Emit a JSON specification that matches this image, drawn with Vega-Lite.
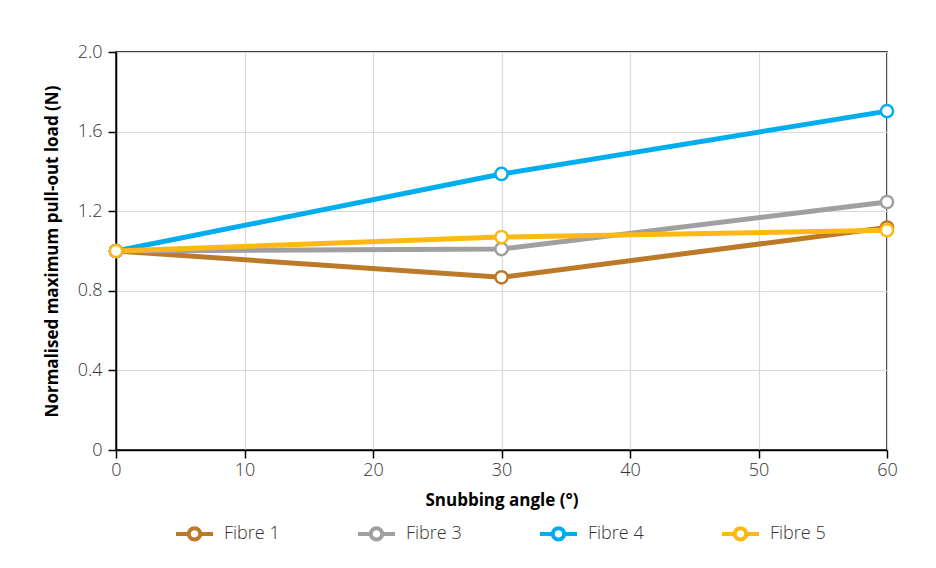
{
  "$schema": "https://vega.github.io/schema/vega-lite/v6.json",
  "width": 771,
  "height": 398,
  "autosize": "none",
  "padding": {"left": 116, "top": 52, "right": 49, "bottom": 118},
  "background": "white",
  "config": {
    "font": "Open Sans",
    "view": {"stroke": "black", "strokeWidth": 1.5},
    "axis": {
      "domainColor": "black",
      "domainWidth": 1.5,
      "tickColor": "black",
      "tickWidth": 1.5,
      "tickSize": 8,
      "gridColor": "#d9d9d9",
      "gridWidth": 1.2,
      "labelFlush": false,
      "labelFont": "Open Sans",
      "labelFontSize": 18,
      "labelFontWeight": 300,
      "labelColor": "#333333",
      "titleFont": "Open Sans",
      "titleFontSize": 17,
      "titleFontWeight": "bold",
      "titleColor": "black"
    }
  },
  "data": {
    "values": [
      {"angle": 0, "load": 1.0, "fibre": "Fibre 1"},
      {"angle": 30, "load": 0.868, "fibre": "Fibre 1"},
      {"angle": 60, "load": 1.118, "fibre": "Fibre 1"},
      {"angle": 0, "load": 1.0, "fibre": "Fibre 3"},
      {"angle": 30, "load": 1.01, "fibre": "Fibre 3"},
      {"angle": 60, "load": 1.246, "fibre": "Fibre 3"},
      {"angle": 0, "load": 1.0, "fibre": "Fibre 4"},
      {"angle": 30, "load": 1.387, "fibre": "Fibre 4"},
      {"angle": 60, "load": 1.703, "fibre": "Fibre 4"},
      {"angle": 0, "load": 1.0, "fibre": "Fibre 5"},
      {"angle": 30, "load": 1.07, "fibre": "Fibre 5"},
      {"angle": 60, "load": 1.104, "fibre": "Fibre 5"}
    ]
  },
  "encoding": {
    "x": {
      "field": "angle",
      "type": "quantitative",
      "scale": {"domain": [0, 60], "nice": false},
      "axis": {"values": [0, 10, 20, 30, 40, 50, 60], "title": "Snubbing angle (°)", "titlePadding": 13, "labelPadding": 3}
    },
    "y": {
      "field": "load",
      "type": "quantitative",
      "scale": {"domain": [0, 2], "nice": false},
      "axis": {
        "values": [0, 0.4, 0.8, 1.2, 1.6, 2.0],
        "labelExpr": "datum.value == 0 ? '0' : format(datum.value, '.1f')",
        "title": "Normalised maximum pull-out load (N)",
        "titlePadding": 16,
        "labelPadding": 6
      }
    },
    "color": {
      "field": "fibre",
      "type": "nominal",
      "scale": {
        "domain": ["Fibre 1", "Fibre 3", "Fibre 4", "Fibre 5"],
        "range": ["#BC7928", "#A0A0A0", "#00AEEF", "#FDB813"]
      },
      "legend": {
        "title": null,
        "orient": "none",
        "direction": "horizontal",
        "legendX": 58,
        "legendY": 461,
        "columns": 4,
        "columnPadding": 70,
        "symbolType": "M-1,0L-0.31,0M0.31,0L1,0M0.31,0A0.31,0.31 0 1 1 -0.31,0A0.31,0.31 0 1 1 0.31,0",
        "symbolSize": 1369,
        "symbolStrokeWidth": 4,
        "symbolOpacity": 1,
        "symbolFillColor": "white",
        "labelFont": "Open Sans",
        "labelFontSize": 18,
        "labelFontWeight": 300,
        "labelColor": "#333333",
        "labelOffset": 9
      }
    }
  },
  "layer": [
    {"mark": {"type": "line", "strokeWidth": 5}},
    {"mark": {"type": "point", "shape": "circle", "filled": false, "fill": "white", "fillOpacity": 1, "opacity": 1, "size": 150, "strokeWidth": 2.5}}
  ]
}
